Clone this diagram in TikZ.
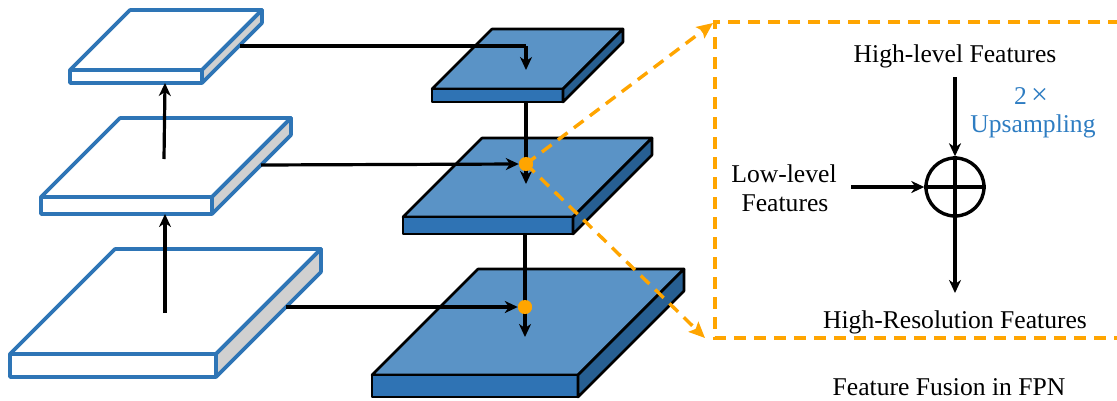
\documentclass[tikz,border=0pt]{standalone}
\usepackage{fontspec}
\setmainfont{Liberation Serif}
\usetikzlibrary{arrows.meta}
\definecolor{slabline}{HTML}{2E75B6}
\definecolor{slabgray}{HTML}{D0D0D0}
\definecolor{btop}{HTML}{5A93C6}
\definecolor{bfront}{HTML}{2F73B4}
\definecolor{bside}{HTML}{275F92}
\definecolor{fuse}{HTML}{FFA500}
\definecolor{uptext}{HTML}{2E7DC2}
\newcommand\drawslab[7]{%
  \drawslabinner{#1}{#2}{#3}{#4}{#5}{#6}#7}
\newcommand\drawslabinner[9]{%
  \filldraw[draw=#1,fill=#2] (#5,#6) -- ({#5+#7},#6) -- ({#5+#7+#8},{#6-#8}) -- ({#5+#8},{#6-#8}) -- cycle;
  \filldraw[draw=#1,fill=#3] (#5,#6) rectangle ({#5+#7},{#6+#9});
  \filldraw[draw=#1,fill=#4] ({#5+#7},#6) -- ({#5+#7+#8},{#6-#8}) -- ({#5+#7+#8},{#6-#8+#9}) -- ({#5+#7},{#6+#9}) -- cycle;}
\tikzset{
  wslab/.style={line width=3.6pt,line join=round},
  bslab/.style={line width=2.6pt,line join=round},
  conn/.style={line width=3.2pt,-{Stealth[length=13pt,width=12pt,inset=4pt]}},
  plain/.style={line width=3.2pt},
  odash/.style={draw=fuse,line width=3.4pt,dash pattern=on 12pt off 8pt},
  oarrow/.style={odash,-{Stealth[length=16pt,width=14pt,inset=3pt,fill=fuse]}},
  lbl/.style={font=\fontsize{25.6}{29}\selectfont,anchor=base,inner sep=0pt},
}
\begin{document}
\begin{tikzpicture}[x=1pt,y=-1pt]
\useasboundingbox (0,0) rectangle (1117,400);
% left (white) pyramid
\begin{scope}[wslab]
\drawslab{slabline}{white}{white}{slabgray}{70}{70}{{132}{60}{13}}
\drawslab{slabline}{white}{white}{slabgray}{41}{197}{{171}{79}{17}}
\drawslab{slabline}{white}{white}{slabgray}{10}{354}{{206}{105}{23}}
\end{scope}
\coordinate (l1s) at (240,46);
\coordinate (l2s) at (261,165);
\coordinate (l3s) at (286,307);
\coordinate (l1b) at (165,83);
\coordinate (l2t) at (164,159);
\coordinate (l2b) at (165,214);
\coordinate (l3t) at (165,313);
\draw[conn] (l2t) -- (l1b);
\draw[conn] (l3t) -- (l2b);
% right (blue) pyramid
\begin{scope}[bslab]
\drawslab{black}{btop}{bfront}{bside}{432}{89}{{131}{60}{13}}
\drawslab{black}{btop}{bfront}{bside}{403}{217}{{170}{79}{17}}
\drawslab{black}{btop}{bfront}{bside}{372}{375}{{206}{106}{22}}
\end{scope}
\coordinate (b1b) at (526,102);
\coordinate (b2b) at (525,234);
\coordinate (c1) at (526,46);
\coordinate (e1) at (526,70);
\coordinate (e2) at (526,184);
\coordinate (e3) at (525,337);
\node[circle,fill=fuse,minimum size=14pt,inner sep=0pt] (d1) at (526,164) {};
\node[circle,fill=fuse,minimum size=14pt,inner sep=0pt] (d2) at (525,307) {};
\draw[plain] (l1s) -- (c1);
\draw[conn] (c1) -- (e1);
\draw[conn] (l2s) -- (d1.west);
\draw[conn] (l3s) -- (d2.west);
\draw[conn] (b1b) -- (e2);
\draw[conn] (b2b) -- (e3);
\node[circle,fill=fuse,minimum size=14pt,inner sep=0pt] at (d1) {};
\node[circle,fill=fuse,minimum size=14pt,inner sep=0pt] at (d2) {};
% zoom box
\coordinate (bt) at (715,22);
\coordinate (bb) at (715,338);
\coordinate (btr) at (1120,22);
\coordinate (bbr) at (1120,338);
\coordinate (at) at (713,23);
\coordinate (ab) at (705,338);
\draw[odash] (btr) -- (bt) -- (bb) -- (bbr);
\draw[oarrow] (d1.center) -- (at);
\draw[oarrow] (d1.center) -- (ab);
% fusion detail
\node[circle,draw,line width=3.4pt,minimum size=58pt,inner sep=0pt] (sum) at (955,187) {};
\draw[line width=3.4pt] (sum.west) -- (sum.east);
\draw[line width=3.4pt] (sum.north) -- (sum.south);
\coordinate (hin) at (955,77);
\coordinate (lin) at (851,187);
\coordinate (hout) at (955,293);
\draw[conn] (hin) -- (sum.north);
\draw[conn] (lin) -- (sum.west);
\draw[conn] (sum.south) -- (hout);
\node[lbl] (hl) at (955,62) {High-level Features};
\node[lbl,text=uptext] (two) at (1031,104) {2\,{\fontsize{30}{30}\selectfont ×}};
\node[lbl,text=uptext] (ups) at (1033,132) {Upsampling};
\node[lbl] (ll1) at (784,182) {Low-level};
\node[lbl] (ll2) at (785,211) {Features};
\node[lbl] (hr) at (955,328) {High-Resolution Features};
\node[lbl] (cap) at (949,395) {Feature Fusion in FPN};
\end{tikzpicture}
\end{document}
